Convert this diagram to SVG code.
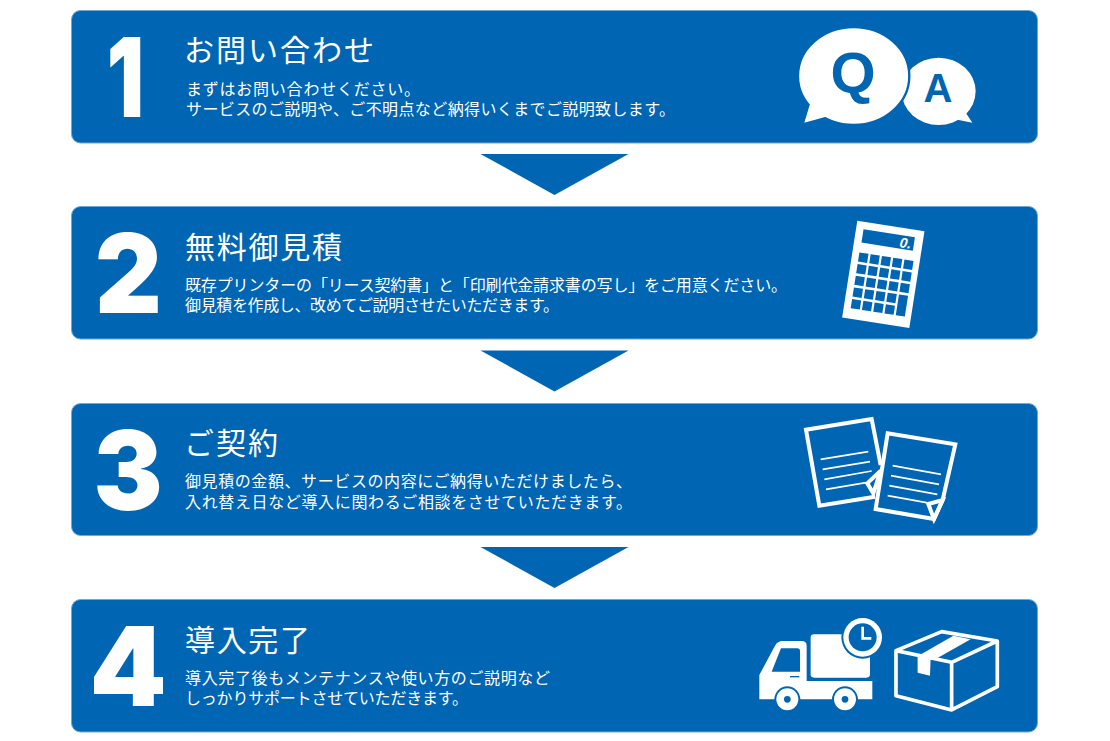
<svg xmlns="http://www.w3.org/2000/svg" width="1110" height="741" viewBox="0 0 1110 741">
<style>
.panel{fill:#0065b3;stroke:#6fa8d6;stroke-width:1}
.arrow{fill:#0065b3}
.num{font-family:"Inter","Liberation Sans",sans-serif;font-weight:900;font-size:110px;fill:#fff;text-anchor:middle}
.title{font-family:"Noto Sans CJK JP","Noto Sans",sans-serif;font-size:30px;fill:#fff}
.body{font-family:"Noto Sans CJK JP","Noto Sans",sans-serif;font-size:16px;fill:#fff}
.w{fill:#fff}.b{fill:#0065b3}
.ln{fill:none;stroke:#fff;stroke-linejoin:miter}
.latin{font-family:"Liberation Sans",Arial,sans-serif;font-weight:700;fill:#0065b3;text-anchor:middle}
</style>
<rect width="1110" height="741" fill="#fff"/>
<g id="connectors">
<polygon class="arrow" points="480.500,154 628.500,154 554.500,195"/>
<polygon class="arrow" points="480.500,350.500 628.500,350.500 554.500,391.500"/>
<polygon class="arrow" points="480.500,547 628.500,547 554.500,588"/>
</g>
<g id="step1">
<rect class="panel" x="71.500" y="10.500" width="966" height="132.500" rx="9"/>
<text class="num" transform="translate(125.500,117) scale(.75,1)">1</text>
<text class="title" x="184" y="61" textLength="190">お問い合わせ</text>
<text class="body" x="186" y="95" textLength="234">まずはお問い合わせください。</text>
<text class="body" x="186" y="115" textLength="489">サービスのご説明や、ご不明点など納得いくまでご説明致します。</text>
<g transform="translate(740,10) scale(.3333)">
<ellipse class="w" cx="596" cy="244" rx="111" ry="101"/>
<path class="w" d="M672 300 697 338 645 328Z"/>
<ellipse class="w" cx="341" cy="198" rx="167" ry="147" stroke="#0065b3" stroke-width="7"/>
<polygon class="w" points="212,275 193,338 258,320"/>
</g>
<text class="latin" x="853" y="93" font-size="58">Q</text>
<text class="latin" x="938" y="102" font-size="40">A</text>
</g>
<g id="step2">
<rect class="panel" x="71.500" y="206.500" width="966" height="132.500" rx="9"/>
<text class="num" transform="translate(128.500,313) scale(.94,1)">2</text>
<text class="title" x="185" y="258" textLength="157">無料御見積</text>
<text class="body" x="185" y="291" textLength="602">既存プリンターの「リース契約書」と「印刷代金請求書の写し」をご用意ください。</text>
<text class="body" x="185" y="311" textLength="374">御見積を作成し、改めてご説明させたいただきます。</text>
<g transform="translate(857.300,220.700) rotate(8.900)">
<rect class="w" width="68" height="98"/>
<rect class="b" x="7.500" y="7.500" width="52" height="13.500"/>
<text x="57" y="19.500" font-family="Liberation Sans,sans-serif" font-size="14" font-style="italic" font-weight="700" fill="#fff" text-anchor="end">0.</text>
<path class="b" d="M7 31h9.200v9.200H7zM18.400 31h9.200v9.200h-9.200zM29.800 31h9.200v9.200h-9.200zM41.200 31h9.200v9.200h-9.200zM52.600 31h9.200v9.200h-9.200zM7 42.800h9.200V52H7zM18.400 42.800h9.200V52h-9.200zM29.800 42.800h9.200V52h-9.200zM41.200 42.800h9.200V52h-9.200zM52.600 42.800h9.200V52h-9.200zM7 54.600h9.200v9.200H7zM18.400 54.600h9.200v9.200h-9.200zM29.800 54.600h9.200v9.200h-9.200zM41.200 54.600h9.200v9.200h-9.200zM52.600 54.600h9.200v9.200h-9.200zM7 66.400h9.200v9.200H7zM18.400 66.400h9.200v9.200h-9.200zM29.800 66.400h9.200v9.200h-9.200zM41.200 66.400h9.200v9.200h-9.200zM52.600 66.400h9.200v21h-9.200zM7 78.200h9.200v9.200H7zM18.400 78.200h9.200v9.200h-9.200zM29.800 78.200h9.200v9.200h-9.200zM41.200 78.200h9.200v9.200h-9.200z"/>
</g>
</g>
<g id="step3">
<rect class="panel" x="71.500" y="403.500" width="966" height="132" rx="9"/>
<text class="num" transform="translate(128,510) scale(.94,1)">3</text>
<text class="title" x="184" y="454" textLength="94">ご契約</text>
<text class="body" x="185" y="487" textLength="447">御見積の金額、サービスの内容にご納得いただけましたら、</text>
<text class="body" x="185" y="508" textLength="447">入れ替え日など導入に関わるご相談をさせていただきます。</text>
<g transform="translate(780,405) scale(.3333)">
<path class="ln" stroke-width="12" d="M302 180 275 42 78 74 118 302 285 275"/>
<path class="ln" stroke-width="12" d="M262 235 302 197 280 265Z"/>
<path class="ln" stroke-width="12" d="M488 285 526 118 323 85 287 312 462 342Z"/>
<path class="ln" stroke-width="12" d="M445 297 488 285 462 342Z"/>
<path class="ln" stroke-width="5" d="M122 163 265 140M128 193 270 170M133 223 275 198M138 253 258 233M338 182 483 208M333 212 477 238M328 242 472 268M323 272 440 293"/>
</g>
</g>
<g id="step4">
<rect class="panel" x="71.500" y="599.500" width="966" height="132.500" rx="9"/>
<text class="num" x="128" y="706">4</text>
<text class="title" x="185" y="651" textLength="125">導入完了</text>
<text class="body" x="185" y="684" textLength="365">導入完了後もメンテナンスや使い方のご説明など</text>
<text class="body" x="185" y="704" textLength="283">しっかりサポートさせていただきます。</text>
<g transform="translate(740,605) scale(.3333)">
<rect class="w" x="212" y="88" width="178" height="130" rx="10"/>
<path class="w" d="M58 210 105 122Q113 108 128 108H185Q200 108 200 122V228H397V283H58Z"/>
<path class="b" d="M123 130H172Q180 130 180 138V200H95Z"/>
<rect class="b" x="150" y="213" width="28" height="4"/>
<circle class="b" cx="368" cy="97" r="64"/>
<circle class="w" cx="368" cy="97" r="58"/>
<circle class="b" cx="368" cy="97" r="42"/>
<path class="ln" stroke-width="8" d="M368 65V100H394"/>
<circle class="b" cx="142" cy="283" r="39"/><circle class="w" cx="142" cy="283" r="33"/><circle class="b" cx="142" cy="283" r="10"/>
<circle class="b" cx="315" cy="283" r="39"/><circle class="w" cx="315" cy="283" r="33"/><circle class="b" cx="315" cy="283" r="10"/>
<path class="w" d="M530 155 640 92 692 103 582 165Z"/>
<path class="w" d="M533 150 572 160 570 212 533 203Z"/>
<path class="ln" stroke-width="11" stroke-linejoin="round" style="stroke-linejoin:round" d="M468 137 605 80 772 108 635 172ZM468 137 468 272 635 315 772 245V108M635 172V315"/>
</g>
</g>
</svg>
